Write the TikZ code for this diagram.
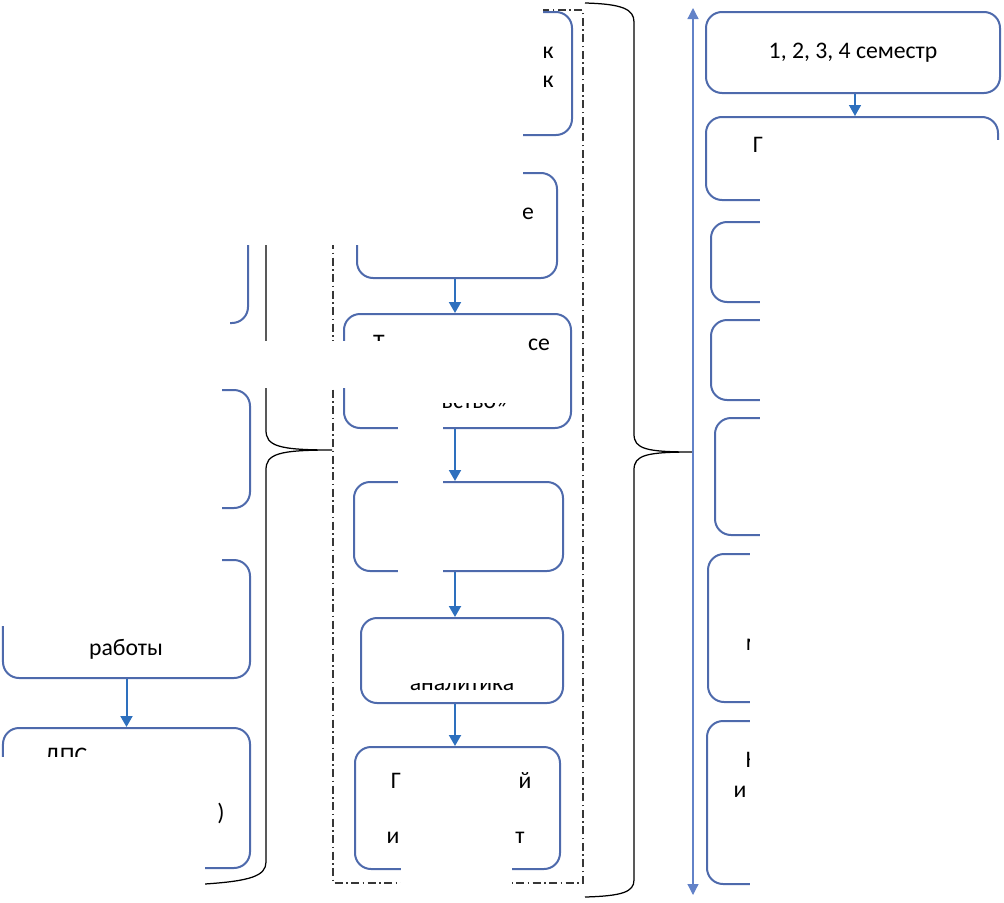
\documentclass[tikz,border=0pt]{standalone}
\usepackage{fontspec}
\setmainfont{Carlito}
\usetikzlibrary{arrows.meta}
\definecolor{BoxBlue}{RGB}{78,106,172}
\definecolor{ArrowBlue}{RGB}{46,112,190}
\definecolor{LineBlue}{RGB}{98,130,200}
\definecolor{FrameGray}{RGB}{55,55,55}

\begin{document}
\begin{tikzpicture}[
    x=0.2mm,
    y=-0.2mm,
    font=\fontsize{13.5}{16}\selectfont,
    stage/.style={
        draw=BoxBlue,
        line width=0.4mm,
        rounded corners=3.2mm,
        inner sep=0pt,
        align=center
    },
    frag/.style={
        anchor=base,
        inner sep=0pt
    },
    arrow/.style={
        -{Triangle[width=2.4mm,length=2.2mm]},
        line width=0.4mm,
        draw=ArrowBlue
    },
    timeline/.style={
        {Triangle[width=2.2mm,length=2.2mm]}-{Triangle[width=2.2mm,length=2.2mm]},
        line width=0.25mm,
        draw=LineBlue
    },
    brace/.style={
        draw=black,
        line width=0.25mm
    },
    frame/.style={
        draw=FrameGray,
        line width=0.35mm,
        dash pattern=on 1.6mm off 0.7mm on 0.3mm off 0.7mm
    },
    mask/.style={
        fill=white,
        draw=none
    }
]
\useasboundingbox (0,0) rectangle (1004,903);

% left column
\node[stage, minimum width=49mm, minimum height=23.6mm] (L1) at (125.5,264) {};
\node[stage, minimum width=49.4mm, minimum height=23.6mm] (L2) at (126.5,449) {};
\node[stage, minimum width=49.4mm, minimum height=23.6mm] (L3) at (126.5,619) {};
\node[stage, minimum width=49.4mm, minimum height=28mm] (L4) at (126.5,798) {};

\draw[arrow] (L3.south) -- (L4.north);

% middle column
\node[stage, minimum width=45.4mm, minimum height=24.6mm] (B1) at (458.5,73.5) {};
\node[stage, minimum width=40mm, minimum height=21mm] (B2) at (457,225.5) {};
\node[stage, minimum width=45.4mm, minimum height=22.8mm] (B3) at (457.5,371) {};
\node[stage, minimum width=41.8mm, minimum height=17.8mm] (B4) at (458.5,526.5) {};
\node[stage, minimum width=40.4mm, minimum height=17mm] (B5) at (462,660.5) {};
\node[stage, minimum width=41mm, minimum height=24.4mm] (B6) at (457.5,808) {};

\draw[arrow] ([xshift=-0.4mm]B2.south) -- ([xshift=-0.4mm]B2.south |- B3.north);
\draw[arrow] ([xshift=-0.5mm]B3.south) -- ([xshift=-0.5mm]B3.south |- B4.north);
\draw[arrow] ([xshift=-0.7mm]B4.south) -- ([xshift=-0.7mm]B4.south |- B5.north);
\draw[arrow] ([xshift=-1.4mm]B5.south) -- ([xshift=-1.4mm]B5.south |- B6.north);

\draw[frame] (333,10) rectangle (583,883);

% right column
\node[stage, minimum width=58.8mm, minimum height=16.2mm] (R1) at (853,52.5) {1, 2, 3, 4 семестр};
\node[stage, minimum width=58.4mm, minimum height=16.6mm] (R2) at (852,158.5) {};
\node[stage, minimum width=57.4mm, minimum height=16mm] (R3) at (854.5,262) {};
\node[stage, minimum width=57.4mm, minimum height=16mm] (R4) at (854.5,360) {};
\node[stage, minimum width=56.6mm, minimum height=23.4mm] (R5) at (856.5,476.5) {};
\node[stage, minimum width=58mm, minimum height=29.6mm] (R6) at (853,628) {};
\node[stage, minimum width=58.2mm, minimum height=32.6mm] (R7) at (852.5,802.5) {};

\draw[arrow, line width=0.3mm] ([xshift=0.4mm]R1.south) -- ([xshift=0.4mm]R1.south |- R2.north);

% braces and time axis
\coordinate (lbTip) at (332,450);
\coordinate (rbTip) at (693,452);
\coordinate (tTop) at (693,8);
\coordinate (tBot) at (693,895);

\draw[brace] (205,18) .. controls (250,19) and (266,24) .. (266,40) -- (266,430)
    .. controls (266,446) and (278,450) .. (lbTip)
    .. controls (278,450) and (266,454) .. (266,470) -- (266,862)
    .. controls (266,876) and (250,881) .. (205,884);
\draw[brace] (585,3) .. controls (622,4) and (634,9) .. (634,22) -- (634,434)
    .. controls (634,449) and (646,452) .. (rbTip)
    .. controls (646,452) and (634,455) .. (634,470) -- (634,880)
    .. controls (634,892) and (622,896) .. (585,897);
\draw[timeline] (tBot) -- (tTop);

% texts that are left
\node[frag] (tL3) at (126,655) {работы};
\node[frag] (tL4a) at (66,763) {ДПС};
\node[frag] (tL4b) at (221,820) {)};
\node[frag] (tB1a) at (548,58) {к};
\node[frag] (tB1b) at (548,87) {к};
\node[frag] (tB2) at (528,219) {е};
\node[frag] (tB3a) at (379,350) {Т};
\node[frag] (tB3b) at (539,350) {се};
\node[frag] (tB3c) at (475,408) {вство»};
\node[frag] (tB5) at (462,690) {аналитика};
\node[frag] (tB6a) at (396,788) {Г};
\node[frag] (tB6b) at (525,788) {й};
\node[frag] (tB6c) at (393,843) {и};
\node[frag] (tB6d) at (520,843) {т};
\node[frag] (tR2) at (758,152) {Г};
\node[frag] (tR6) at (754,650) {м};
\node[frag] (tR7a) at (753,767) {Н};
\node[frag] (tR7b) at (740,797) {и};

% blanked areas
\fill[mask] (0,0) rectangle (543,110);
\fill[mask] (0,110) rectangle (523,245);
\fill[mask] (0,245) rectangle (230,341);
\fill[mask] (0,341) rectangle (517,388);
\fill[mask] (0,388) rectangle (222,626);
\fill[mask] (398,388) rectangle (520,403);
\fill[mask] (398,403) rectangle (443,600);
\fill[mask] (376,624) rectangle (548,683);
\fill[mask] (0,757) rectangle (205,903);
\fill[mask] (401,768) rectangle (519,792);
\fill[mask] (401,792) rectangle (512,903);
\fill[mask] (760,140) rectangle (1004,540);
\fill[mask] (750,540) rectangle (1004,903);

\end{tikzpicture}
\end{document}
